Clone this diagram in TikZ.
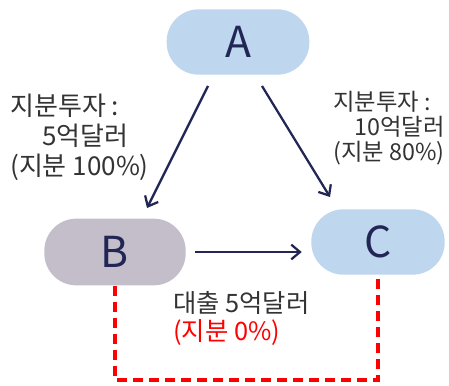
\documentclass[tikz,border=0pt]{standalone}
\usepackage{fontspec}
\setmainfont{Noto Sans CJK KR}
\usetikzlibrary{arrows.meta}

\definecolor{navy}{RGB}{33,38,84}
\definecolor{paleblue}{RGB}{190,215,238}
\definecolor{mauve}{RGB}{195,190,202}
\definecolor{ink}{RGB}{51,51,51}

\begin{document}
\begin{tikzpicture}[x=0.75pt,y=-0.75pt,
    company/.style={rounded corners=24pt, minimum height=49pt,
      text=navy, font=\fontsize{32}{38}\selectfont},
    invest/.style={draw=navy, line width=1.7pt,
      -{Straight Barb[length=6.5pt,width=11pt]}},
    loanline/.style={draw=red, line width=2.6pt, dash pattern=on 8pt off 4pt},
    note/.style={text=ink, align=left, anchor=west, inner sep=0pt}]
  \useasboundingbox (0,0) rectangle (449,385);

  \node[company, fill=paleblue, minimum width=107pt] (A) at (238,42) {A};
  \node[company, fill=mauve, minimum width=106pt, minimum height=50pt] (B) at (115,252) {B};
  \node[company, fill=paleblue, minimum width=100pt] (C) at (378,242) {C};

  % investment arrows
  \coordinate (ab1) at (208,86);
  \coordinate (ab2) at (147,208);
  \coordinate (ac1) at (262,86);
  \coordinate (ac2) at (330,197);
  \draw[invest] (ab1) -- (ab2);
  \draw[invest] (ac1) -- (ac2);
  \draw[invest] ([xshift=7pt]B.east) -- ([xshift=-7pt]B.east -| C.west);

  \node[note, font=\fontsize{19.5}{22.5}\selectfont] (stakeB) at (10,137)
    {지분투자 :\\\hspace*{24pt}5억달러\\(지분 100\%)};
  \node[note, font=\fontsize{17.5}{19}\selectfont] (stakeC) at (333,128)
    {지분투자 :\\\hspace*{16pt}10억달러\\(지분 80\%)};
  \node[note, anchor=north west, font=\fontsize{19}{21}\selectfont] (loan) at (173,291)
    {대출 5억달러\\\textcolor{red}{(지분 0\%)}};

  % loan only, no stake
  \coordinate (floor) at (0,380);
  \draw[loanline] (B.south) -- (B.south |- floor) -| (C.south);
\end{tikzpicture}
\end{document}
